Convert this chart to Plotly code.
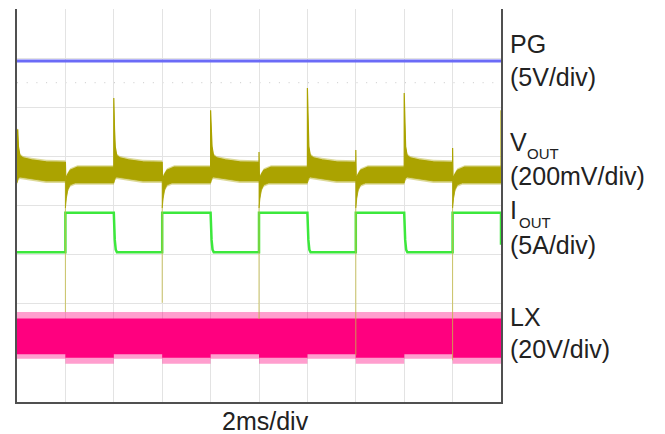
import plotly.graph_objects as go

# ---------------- data (screen divisions; x in ms, 2 ms/div) ----------------
edges_ms = [0, 2, 4, 6, 8, 10, 12, 14, 16, 18, 20]
load_high = [0, 1, 0, 1, 0, 1, 0, 1, 0, 1]

release_ms = [0, 4, 8, 12, 16, 20]
release_peak = [1.45, 2.19, 1.94, 2.39, 2.29, 1.94]
stepup_ms = [2, 6, 10, 14, 18]
stepup_spike = [0.88, 0.88, 1.09, 1.13, 1.17]
stepup_tail = [-2.17, -1.98, -2.31, -3.05, -3.15]

pg_level = 2.94

vout_low_band = [0.50, 0.88]    # lower, upper  (light load)
vout_high_band = [0.46, 0.78]   # lower, upper  (heavy load)
os_dt = [0.03, 0.06, 0.12, 0.25, 0.6, 1.2]
os_upper = [1.55, 1.20, 1.02, 0.97, 0.93, 0.89]
os_lower_dt = [0, 0.05, 0.12, 0.6, 1.2]
os_lower = [0.46, 0.55, 0.58, 0.54, 0.50]
us_upper_dt = [0.02, 0.08, 0.2, 0.5]
us_upper = [0.50, 0.62, 0.72, 0.78]
us_lower_dt = [0, 0.04, 0.1, 0.2, 0.4]
us_lower = [-0.05, 0.15, 0.32, 0.42, 0.46]

iout_low, iout_high = -0.95, -0.15
iout_fall_dt = [0, 0.04, 0.08, 0.13]
iout_fall = [-0.15, -0.70, -0.90, -0.95]
iout_edge_end = -0.80

lx_inner = {0: [-3.03, -2.30], 1: [-3.10, -2.30]}
lx_outer = {0: [-3.12, -2.17], 1: [-3.22, -2.17]}

labels = ["PG", "(5V/div)", "(200mV/div)", "(5A/div)", "LX", "(20V/div)"]
xlabel = "2ms/div"

# ---------------- colours ----------------
C_PG = "#6b6bf7"
C_VOUT = "#aba300"
C_IOUT = "#3ce83c"
C_LX = "#ff007f"
C_GRID = "#e3e3e3"
C_FRAME = "#505050"

# ---------------- build envelopes ----------------
vu_x, vu_y, vl_x, vl_y = [], [], [], []
for i in range(len(edges_ms) - 1):
    t0, t1 = edges_ms[i], edges_ms[i + 1]
    if load_high[i] == 0:
        k = release_ms.index(t0)
        vu_x += [t0] + [t0 + d for d in os_dt] + [t1]
        vu_y += [release_peak[k]] + os_upper + [vout_low_band[1]]
        vl_x += [t0 + d for d in os_lower_dt] + [t1]
        vl_y += os_lower + [vout_low_band[0]]
    else:
        k = stepup_ms.index(t0)
        vu_x += [t0] + [t0 + d for d in us_upper_dt] + [t1]
        vu_y += [stepup_spike[k]] + us_upper + [vout_high_band[1]]
        vl_x += [t0 + d for d in us_lower_dt] + [t1]
        vl_y += us_lower + [vout_high_band[0]]
vu_x.append(release_ms[-1]); vu_y.append(release_peak[-1])

iout_x, iout_y = [], []
for i in range(len(edges_ms) - 1):
    t0, t1 = edges_ms[i], edges_ms[i + 1]
    if load_high[i] == 0:
        if t0 == 0:
            iout_x += [t0]; iout_y += [iout_low]
        else:
            iout_x += [t0 + d for d in iout_fall_dt]; iout_y += iout_fall
        iout_x += [t1]; iout_y += [iout_low]
    else:
        iout_x += [t0, t1]; iout_y += [iout_high, iout_high]
iout_x.append(edges_ms[-1]); iout_y.append(iout_edge_end)

def band(d):
    xs, lo, hi = [], [], []
    for i in range(len(edges_ms) - 1):
        t0, t1 = edges_ms[i], edges_ms[i + 1]
        xs += [t0, t1]
        lo += [d[load_high[i]][0]] * 2
        hi += [d[load_high[i]][1]] * 2
    return xs, lo, hi

fig = go.Figure()

# LX
for d, fc in ((lx_outer, "rgba(255,0,127,0.38)"), (lx_inner, C_LX)):
    xs, lo, hi = band(d)
    fig.add_trace(go.Scatter(x=xs, y=lo, mode="lines", line=dict(width=0, color=C_LX),
                             hoverinfo="skip", showlegend=False))
    fig.add_trace(go.Scatter(x=xs, y=hi, mode="lines", line=dict(width=0, color=C_LX),
                             fill="tonexty", fillcolor=fc, hoverinfo="skip", showlegend=False))

# IOUT
fig.add_trace(go.Scatter(x=iout_x, y=iout_y, mode="lines", line=dict(width=2.5, color=C_IOUT),
                         hoverinfo="skip", showlegend=False))

# VOUT soft outer edge
fig.add_trace(go.Scatter(x=vl_x, y=[v - 0.04 for v in vl_y], mode="lines", line=dict(width=0, color=C_VOUT),
                         hoverinfo="skip", showlegend=False))
fig.add_trace(go.Scatter(x=vu_x, y=[v + 0.04 for v in vu_y], mode="lines", line=dict(width=0, color=C_VOUT),
                         fill="tonexty", fillcolor="rgba(171,163,0,0.4)", hoverinfo="skip", showlegend=False))
# VOUT solid band
fig.add_trace(go.Scatter(x=vl_x, y=vl_y, mode="lines", line=dict(width=0.8, color=C_VOUT),
                         hoverinfo="skip", showlegend=False))
fig.add_trace(go.Scatter(x=vu_x, y=vu_y, mode="lines", line=dict(width=1.2, color=C_VOUT),
                         fill="tonexty", fillcolor=C_VOUT, hoverinfo="skip", showlegend=False))

# thin VOUT tails at load step-up
tx, ty = [], []
for t, tail in zip(stepup_ms, stepup_tail):
    tx += [t, t, None]; ty += [us_lower[0], tail, None]
fig.add_trace(go.Scatter(x=tx, y=ty, mode="lines", line=dict(width=1, color="rgba(196,188,70,0.8)"),
                         hoverinfo="skip", showlegend=False))

# PG
fig.add_trace(go.Scatter(x=[edges_ms[0], edges_ms[-1]], y=[pg_level, pg_level], mode="lines",
                         line=dict(width=3, color=C_PG), hoverinfo="skip", showlegend=False))

L, R, T, B = 17, 501, 9, 402
W, H = 665, 434

def pxx(x):
    return (x - L) / (R - L)

def pxy(y):
    return (B - y) / (B - T)

font = "Liberation Sans, Arial, sans-serif"
ann = []
big = 25
for text, ypx in zip(labels, [44, 77, 176, 245, 317, 349]):
    ann.append(dict(text=text, x=pxx(508), y=pxy(ypx), xref="paper", yref="paper",
                    xanchor="left", yanchor="middle", showarrow=False,
                    font=dict(family=font, size=big, color="#222")))
ann.append(dict(text="V", x=pxx(508), y=pxy(142), xref="paper", yref="paper", xanchor="left",
                yanchor="middle", showarrow=False, font=dict(family=font, size=big, color="#222")))
ann.append(dict(text="OUT", x=pxx(525), y=pxy(153), xref="paper", yref="paper", xanchor="left",
                yanchor="middle", showarrow=False, font=dict(family=font, size=15, color="#222")))
ann.append(dict(text="I", x=pxx(508), y=pxy(210), xref="paper", yref="paper", xanchor="left",
                yanchor="middle", showarrow=False, font=dict(family=font, size=big, color="#222")))
ann.append(dict(text="OUT", x=pxx(517), y=pxy(222), xref="paper", yref="paper", xanchor="left",
                yanchor="middle", showarrow=False, font=dict(family=font, size=15, color="#222")))
ann.append(dict(text=xlabel, x=pxx(265), y=pxy(421), xref="paper", yref="paper", xanchor="center",
                yanchor="middle", showarrow=False, font=dict(family=font, size=big, color="#222")))

fig.update_layout(
    width=W, height=H, margin=dict(l=L, r=W - R, t=T, b=H - B, pad=0),
    paper_bgcolor="white", plot_bgcolor="white", showlegend=False,
    annotations=ann,
    xaxis=dict(range=[0, 20], tick0=0, dtick=2, showgrid=True, gridcolor=C_GRID, gridwidth=1,
               showticklabels=False, ticks="", zeroline=False, showline=True, linecolor=C_FRAME,
               linewidth=2, fixedrange=True),
    yaxis=dict(range=[-4, 4], tick0=0, dtick=1, showgrid=True, gridcolor=C_GRID, gridwidth=1,
               showticklabels=False, ticks="", zeroline=False, showline=True, linecolor=C_FRAME,
               linewidth=2, mirror=True, fixedrange=True),
    xaxis2=dict(range=[0, 20], overlaying="x", anchor="free", position=0.5, tick0=0, dtick=0.4,
                ticks="outside", ticklen=3, tickcolor="#c8c8c8", showgrid=False, showticklabels=False,
                zeroline=False, showline=False),
    xaxis3=dict(range=[0, 20], overlaying="x", anchor="free", position=0.5, tick0=0, dtick=0.4,
                ticks="inside", ticklen=3, tickcolor="#c8c8c8", showgrid=False, showticklabels=False,
                zeroline=False, showline=False),
    yaxis2=dict(range=[-4, 4], overlaying="y", anchor="free", position=0.5, tick0=0, dtick=0.2,
                ticks="outside", ticklen=3, tickcolor="#c8c8c8", showgrid=False, showticklabels=False,
                zeroline=False, showline=False),
    yaxis3=dict(range=[-4, 4], overlaying="y", anchor="free", position=0.5, tick0=0, dtick=0.2,
                ticks="inside", ticklen=3, tickcolor="#c8c8c8", showgrid=False, showticklabels=False,
                zeroline=False, showline=False),
    shapes=[dict(type="line", xref="x", yref="y", x0=0, x1=20, y0=2.5, y1=2.5,
                 line=dict(color="#c8c8c8", width=1, dash="1px,8.7px"), layer="below")],
)

fig.write_html("out.html")
